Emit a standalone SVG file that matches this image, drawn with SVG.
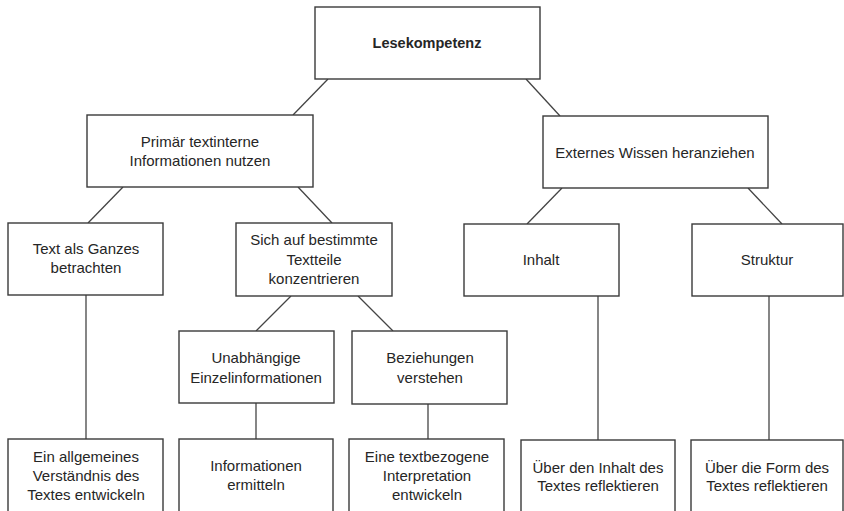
<svg xmlns="http://www.w3.org/2000/svg" width="844" height="511" viewBox="0 0 844 511">
  <style>
    .box { fill: #ffffff; stroke: #3a3a3a; stroke-width: 1.4; }
    .edge { stroke: #444444; stroke-width: 1.3; fill: none; }
    text { font-family: "Liberation Sans", Arial, sans-serif; font-size: 15px; fill: #262626; text-anchor: middle; dominant-baseline: central; }
    .title { font-size: 14.5px; font-weight: bold; }
  </style>
  <rect width="844" height="511" fill="#ffffff"/>

  <g id="connectors">
    <line class="edge" x1="328" y1="79" x2="293" y2="115"/>
    <line class="edge" x1="526" y1="79" x2="560" y2="116"/>
    <line class="edge" x1="123" y1="187" x2="88" y2="223"/>
    <line class="edge" x1="298" y1="187" x2="332" y2="223"/>
    <line class="edge" x1="562" y1="188" x2="527" y2="224"/>
    <line class="edge" x1="748" y1="188" x2="782" y2="224"/>
    <line class="edge" x1="291" y1="296" x2="256" y2="331"/>
    <line class="edge" x1="358" y1="296" x2="393" y2="331"/>
    <line class="edge" x1="86" y1="295" x2="86" y2="439"/>
    <line class="edge" x1="256" y1="403" x2="256" y2="439"/>
    <line class="edge" x1="428" y1="404" x2="428" y2="439"/>
    <line class="edge" x1="598" y1="296" x2="598" y2="440"/>
    <line class="edge" x1="769" y1="296" x2="769" y2="440"/>
  </g>

  <g id="lesekompetenz">
    <rect class="box" x="315" y="7" width="225" height="72"/>
    <text class="title" x="427" y="43">Lesekompetenz</text>
  </g>

  <g id="primaer">
    <rect class="box" x="87" y="115" width="226" height="72"/>
    <text x="200" y="141">Primär textinterne</text>
    <text x="200" y="160">Informationen nutzen</text>
  </g>

  <g id="extern">
    <rect class="box" x="543" y="116" width="225" height="72"/>
    <text x="655" y="152">Externes Wissen heranziehen</text>
  </g>

  <g id="ganzes">
    <rect class="box" x="8" y="223" width="155" height="72"/>
    <text x="86" y="248">Text als Ganzes</text>
    <text x="86" y="267">betrachten</text>
  </g>

  <g id="textteile">
    <rect class="box" x="236" y="223" width="156" height="73"/>
    <text x="314" y="239">Sich auf bestimmte</text>
    <text x="314" y="259">Textteile</text>
    <text x="314" y="278">konzentrieren</text>
  </g>

  <g id="inhalt">
    <rect class="box" x="464" y="224" width="155" height="72"/>
    <text x="541" y="259">Inhalt</text>
  </g>

  <g id="struktur">
    <rect class="box" x="692" y="224" width="151" height="72"/>
    <text x="767" y="259">Struktur</text>
  </g>

  <g id="einzelinfo">
    <rect class="box" x="179" y="331" width="155" height="72"/>
    <text x="256" y="357">Unabhängige</text>
    <text x="256" y="377">Einzelinformationen</text>
  </g>

  <g id="beziehungen">
    <rect class="box" x="352" y="331" width="155" height="73"/>
    <text x="430" y="357">Beziehungen</text>
    <text x="430" y="377">verstehen</text>
  </g>

  <g id="verstaendnis">
    <rect class="box" x="8" y="439" width="155" height="80"/>
    <text x="86" y="456">Ein allgemeines</text>
    <text x="86" y="475">Verständnis des</text>
    <text x="86" y="494">Textes entwickeln</text>
  </g>

  <g id="ermitteln">
    <rect class="box" x="179" y="439" width="154" height="80"/>
    <text x="256" y="465">Informationen</text>
    <text x="256" y="484">ermitteln</text>
  </g>

  <g id="interpretation">
    <rect class="box" x="349" y="439" width="155" height="80"/>
    <text x="427" y="456">Eine textbezogene</text>
    <text x="427" y="475">Interpretation</text>
    <text x="427" y="494">entwickeln</text>
  </g>

  <g id="reflekt-inhalt">
    <rect class="box" x="521" y="440" width="154" height="80"/>
    <text x="598" y="467">Über den Inhalt des</text>
    <text x="598" y="485">Textes reflektieren</text>
  </g>

  <g id="reflekt-form">
    <rect class="box" x="691" y="440" width="152" height="80"/>
    <text x="767" y="467">Über die Form des</text>
    <text x="767" y="485">Textes reflektieren</text>
  </g>
</svg>
